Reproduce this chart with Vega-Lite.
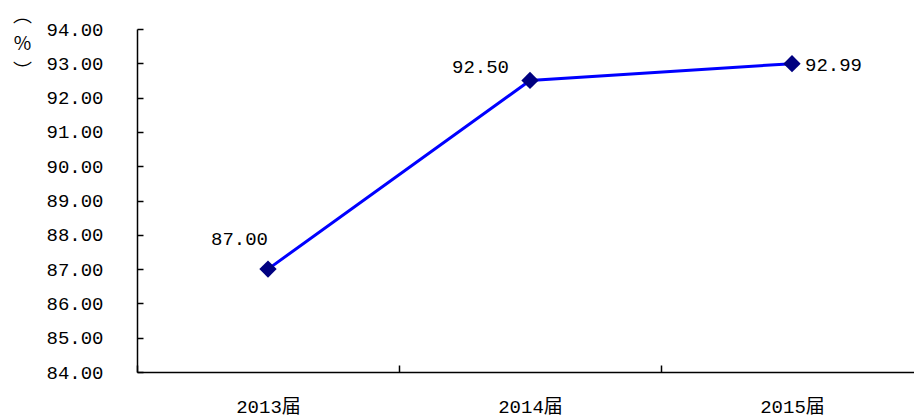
{
  "$schema": "https://vega.github.io/schema/vega-lite/v6.json",
  "autosize": {"type": "none"},
  "width": 777,
  "height": 343,
  "padding": {"left": 137, "top": 29, "right": 0, "bottom": 45},
  "background": "white",
  "config": {"view": {"stroke": null}},
  "data": {"values": [
    {"year": "2013届", "value": 87.00, "label": "87.00"},
    {"year": "2014届", "value": 92.50, "label": "92.50"},
    {"year": "2015届", "value": 92.99, "label": "92.99"}
  ]},
  "encoding": {
    "x": {"field": "year", "type": "nominal", "sort": null,
      "scale": {"type": "band", "range": [0, 786], "paddingInner": 0, "paddingOuter": 0},
      "axis": {"title": null, "labelAngle": 0, "tickBand": "extent", "tickSize": -7, "tickColor": "#000", "tickWidth": 1.5,
        "domainColor": "#000", "domainWidth": 1.5, "labelFont": "Liberation Mono, Noto Sans CJK SC", "labelFontSize": 19,
        "labelColor": "#000", "labelPadding": 32, "labelBaseline": "top", "grid": false}},
    "y": {"field": "value", "type": "quantitative",
      "scale": {"domain": [84, 94], "zero": false, "nice": false},
      "axis": {"values": [84, 85, 86, 87, 88, 89, 90, 91, 92, 93, 94], "format": ".2f", "grid": false,
        "tickSize": -6, "tickColor": "#000", "tickWidth": 1.5, "domainColor": "#000", "domainWidth": 1.5,
        "labelFont": "Liberation Mono", "labelFontSize": 19, "labelColor": "#000", "labelPadding": 40, "labelBaseline": "middle",
        "title": ["︵", "%", "︶"], "titleAngle": 0, "titleX": -115, "titleY": -23, "titleAlign": "center", "titleBaseline": "top",
        "titleFont": "Noto Sans CJK SC", "titleFontSize": 19, "titleFontWeight": "normal", "titleLineHeight": 28, "titleColor": "#000"}}
  },
  "layer": [
    {"mark": {"type": "line", "color": "#0000FF", "strokeWidth": 3}},
    {"mark": {"type": "point", "shape": "diamond", "filled": true, "color": "#000080", "size": 300, "opacity": 1}},
    {"transform": [{"filter": "datum.year === '2013届'"}],
     "mark": {"type": "text", "align": "right", "baseline": "middle", "dx": 0, "dy": -30, "font": "Liberation Mono", "fontSize": 19, "color": "#000"},
     "encoding": {"text": {"field": "label"}}},
    {"transform": [{"filter": "datum.year === '2014届'"}],
     "mark": {"type": "text", "align": "right", "baseline": "middle", "dx": -21, "dy": -13, "font": "Liberation Mono", "fontSize": 19, "color": "#000"},
     "encoding": {"text": {"field": "label"}}},
    {"transform": [{"filter": "datum.year === '2015届'"}],
     "mark": {"type": "text", "align": "left", "baseline": "middle", "dx": 13, "dy": 1, "font": "Liberation Mono", "fontSize": 19, "color": "#000"},
     "encoding": {"text": {"field": "label"}}}
  ]
}
